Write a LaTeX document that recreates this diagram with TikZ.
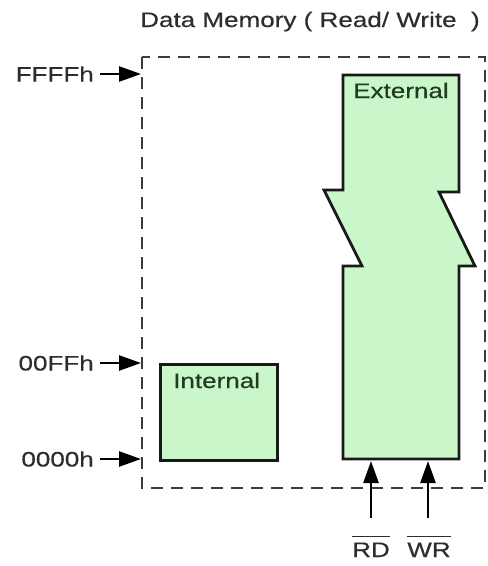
\documentclass[tikz,border=0pt]{standalone}
\usepackage{fontspec}
\setmainfont{Liberation Sans}[FakeBold=0.4]
\newfontfamily\lblfont{Liberation Sans}[FakeBold=0.4]
\usetikzlibrary{arrows.meta}
\definecolor{memfill}{RGB}{202,247,202}
\definecolor{txtgray}{RGB}{45,45,45}
\definecolor{txtgreen}{RGB}{34,60,34}
\definecolor{dashgray}{RGB}{60,60,60}
\newcommand{\wtext}[1]{\scalebox{1.24}[1]{\lblfont\fontsize{21}{25}\selectfont #1}}
\tikzset{
  lbl/.style={inner sep=0pt, text=txtgray},
  inlbl/.style={inner sep=0pt, text=txtgreen},
  membox/.style={draw=black!90, line width=2.8pt, fill=memfill, line join=miter},
  bound/.style={draw=dashgray, line width=2.5pt, dash pattern=on 12pt off 8pt},
  arr/.style={line width=2.5pt, -{Triangle[length=22pt,width=15pt]}, draw=black}
}
\begin{document}
\begin{tikzpicture}[x=1pt,y=-1pt]
\useasboundingbox (0,0) rectangle (488,566);
% title
\node[lbl, anchor=base west] (title) at (140,27) {\wtext{Data Memory ( Read/ Write \ )}};
% dashed boundary
\draw[bound] (142,57) rectangle (485,488);
\coordinate (bFFFF) at (141,74);
\coordinate (b00FF) at (141,363);
\coordinate (b0000) at (141,459);
% address labels
\node[lbl, anchor=east] (aFFFF) at (94,74) {\wtext{FFFFh}};
\node[lbl, anchor=east] (a00FF) at (94,363) {\wtext{00FFh}};
\node[lbl, anchor=east] (a0000) at (94,459) {\wtext{0000h}};
\draw[arr] (aFFFF.east) ++(6,0) -- (bFFFF);
\draw[arr] (a00FF.east) ++(6,0) -- (b00FF);
\draw[arr] (a0000.east) ++(6,0) -- (b0000);
% internal memory
\node[membox, anchor=north west, minimum width=117pt, minimum height=96pt, inner sep=0pt] (int) at (159,363) {};
\node[inlbl, anchor=base west] (intlbl) at (173,388) {\wtext{Internal}};
% external memory
\draw[membox] (343,75) -- (459,75) -- (459,192) -- (439,192) -- (475,266) -- (459,266)
  -- (459,459) -- (343,459) -- (343,266) -- (362,266) -- (324,190) -- (343,190) -- cycle;
\node[inlbl, anchor=base west] (extlbl) at (353,98) {\wtext{External}};
\coordinate (rdh) at (371,461);
\coordinate (wrh) at (428,461);
\coordinate (rdt) at (371,518);
\coordinate (wrt) at (428,518);
\draw[arr] (rdt) -- (rdh);
\draw[arr] (wrt) -- (wrh);
\node[lbl, anchor=base] (rd) at (371,557) {\wtext{$\overline{\mbox{RD}\rule{0pt}{19pt}}$}};
\node[lbl, anchor=base] (wr) at (429,557) {\wtext{$\overline{\mbox{WR}\rule{0pt}{19pt}}$}};
\end{tikzpicture}
\end{document}
